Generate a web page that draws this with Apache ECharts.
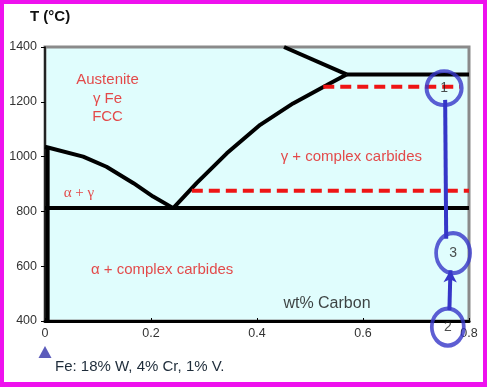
<!DOCTYPE html>
<html>
<head>
<meta charset="utf-8">
<script src="https://cdn.jsdelivr.net/npm/echarts@6/dist/echarts.min.js"></script>
<style>
html,body{margin:0;padding:0;background:#fff;}
#c{width:491px;height:387px;}
</style>
</head>
<body>
<div id="c"></div>
<script>
// ---- data (wt% C, T in °C) ----
const xTicks = [0, 0.2, 0.4, 0.6, 0.8];
const yTicks = [400, 600, 800, 1000, 1200, 1400];
const upperLine = [[0.451, 1400], [0.569, 1300]];
const topHorizontal = [[0.569, 1300], [0.8, 1300]];
const gammaSolvus = [[0.242, 812], [0.286, 903], [0.343, 1012], [0.406, 1116], [0.468, 1194], [0.532, 1261], [0.569, 1300]];
const a3Line = [[0, 1036], [0.072, 1000], [0.116, 963], [0.167, 903], [0.204, 854], [0.242, 812]];
const eutectoidLine = [[0, 812], [0.8, 812]];
const alphaSolvus = [[0.005, 1030], [0.005, 400]];
const redDashUpper = [[0.525, 1255], [0.783, 1255]];
const redDashLower = [[0.277, 875], [0.8, 875]];
const pathLine = [[0.755, 1207], [0.757, 700]];
const arrowFrom = [0.763, 440];
const arrowTo = [0.765, 585];
const circlePoints = [[0.753, 1250], [0.770, 648], [0.760, 378]];
const circleNames = ['1', '3', '2'];
const circleSizes = [[35, 34], [34, 40], [32, 37]];
const regionTexts = ['Austenite\nγ Fe\nFCC', 'γ + complex carbides', 'α + γ', 'α + complex carbides', 'wt% Carbon'];
const regionPos = [[0.118, 1212], [0.578, 1000], [0.064, 866], [0.221, 586], [0.532, 462]];
const markerPos = [0, 287];
const caption = 'Fe: 18% W, 4% Cr, 1% V.';
const yName = 'T (°C)';

const RED = '#e31b1b', BLUE = '#3636c8', SANS = 'Liberation Sans, Arial, sans-serif';
const ellipse = (w, h) => 'path://M0,' + h / 2 + 'A' + w / 2 + ',' + h / 2 + ' 0 1,1 ' + w + ',' + h / 2 + 'A' + w / 2 + ',' + h / 2 + ' 0 1,1 0,' + h / 2 + 'Z';

function blackLine(d, w) {
  return {type: 'line', data: d, symbol: 'none', silent: true, z: 3,
    lineStyle: {color: '#000', width: w || 4}, animation: false};
}
function redDash(d) {
  return {type: 'line', data: d, symbol: 'none', silent: true, z: 4,
    lineStyle: {color: '#ee1515', width: 4, type: [11, 6]}, animation: false};
}

const labelStyles = [
  {fontSize: 15, color: RED, fontFamily: SANS, lineHeight: 18.5},
  {fontSize: 15, color: RED, fontFamily: SANS},
  {fontSize: 15, color: RED, fontFamily: 'Liberation Serif, Times New Roman, serif'},
  {fontSize: 15, color: RED, fontFamily: SANS},
  {fontSize: 16, color: '#111', fontFamily: SANS}
];

const option = {
  animation: false,
  grid: {left: 45, top: 47, width: 424, height: 274, show: true,
    backgroundColor: '#e0fdfd', borderColor: '#8a8a8a', borderWidth: 3},
  xAxis: {type: 'value', min: xTicks[0], max: xTicks[xTicks.length - 1], interval: 0.2,
    splitLine: {show: false},
    axisLine: {lineStyle: {color: '#000', width: 3}},
    axisTick: {inside: true, length: 3, lineStyle: {color: '#000'}},
    axisLabel: {margin: 6, fontSize: 12.5, color: '#333', fontFamily: SANS,
      formatter: v => (v === 0 ? '0' : v.toFixed(1))}},
  yAxis: {type: 'value', min: yTicks[0], max: yTicks[yTicks.length - 1], interval: 200,
    splitLine: {show: false},
    axisLine: {show: true, lineStyle: {color: '#000', width: 1.5}},
    axisTick: {show: true, length: 4, lineStyle: {color: '#000'}},
    axisLabel: {margin: 8, fontSize: 12.5, color: '#333', fontFamily: SANS,
      formatter: v => String(v)}},
  series: [
    blackLine(upperLine),
    blackLine(topHorizontal),
    blackLine(gammaSolvus),
    blackLine(a3Line),
    blackLine(eutectoidLine),
    blackLine(alphaSolvus, 4),
    redDash(redDashUpper),
    redDash(redDashLower),
    {type: 'line', data: pathLine, symbol: 'none', z: 5, silent: true,
      lineStyle: {color: BLUE, width: 4},
      markLine: {silent: true, symbol: ['none', 'arrow'], symbolSize: [10, 12],
        label: {show: false}, lineStyle: {color: BLUE, width: 4, type: 'solid'},
        data: [[{coord: arrowFrom}, {coord: arrowTo}]]}},
    {type: 'scatter', clip: false, z: 6, silent: true,
      data: circlePoints.map((p, i) => ({value: p, name: circleNames[i],
        symbol: ellipse(circleSizes[i][0], circleSizes[i][1]), symbolSize: circleSizes[i]})),
      itemStyle: {color: 'rgba(0,0,0,0)', borderColor: BLUE, borderWidth: 4},
      label: {show: true, position: 'inside', formatter: p => p.name,
        fontSize: 14, color: '#222', fontFamily: SANS}},
    {type: 'scatter', clip: false, z: 7, silent: true,
      data: regionPos.map((p, i) => ({value: p, name: regionTexts[i],
        label: Object.assign({show: true, position: 'inside', formatter: q => q.name}, labelStyles[i])})),
      symbolSize: 1, itemStyle: {color: 'rgba(0,0,0,0)'}},
    {type: 'scatter', clip: false, z: 7, silent: true,
      data: [markerPos], symbol: 'triangle', symbolSize: [13, 12],
      itemStyle: {color: '#3333aa'}}
  ],
  graphic: [
    {type: 'text', left: 30, top: 9, z: 10,
      style: {text: yName, fontSize: 15, fontWeight: 'bold', fill: '#111', fontFamily: SANS}},
    {type: 'text', left: 55, top: 359, z: 10,
      style: {text: caption, fontSize: 15, fill: '#1e2c3a', fontFamily: SANS}},
    {type: 'rect', shape: {x: 0, y: 0, width: 487, height: 4}, style: {fill: '#ee11ee'}, z: 20},
    {type: 'rect', shape: {x: 0, y: 0, width: 4, height: 387}, style: {fill: '#ee11ee'}, z: 20},
    {type: 'rect', shape: {x: 483, y: 0, width: 4, height: 387}, style: {fill: '#ee11ee'}, z: 20},
    {type: 'rect', shape: {x: 0, y: 382, width: 487, height: 5}, style: {fill: '#ee11ee'}, z: 20}
  ]
};
const chart = echarts.init(document.getElementById('c'), null, {renderer: 'canvas'});
chart.setOption(option);
</script>
</body>
</html>
